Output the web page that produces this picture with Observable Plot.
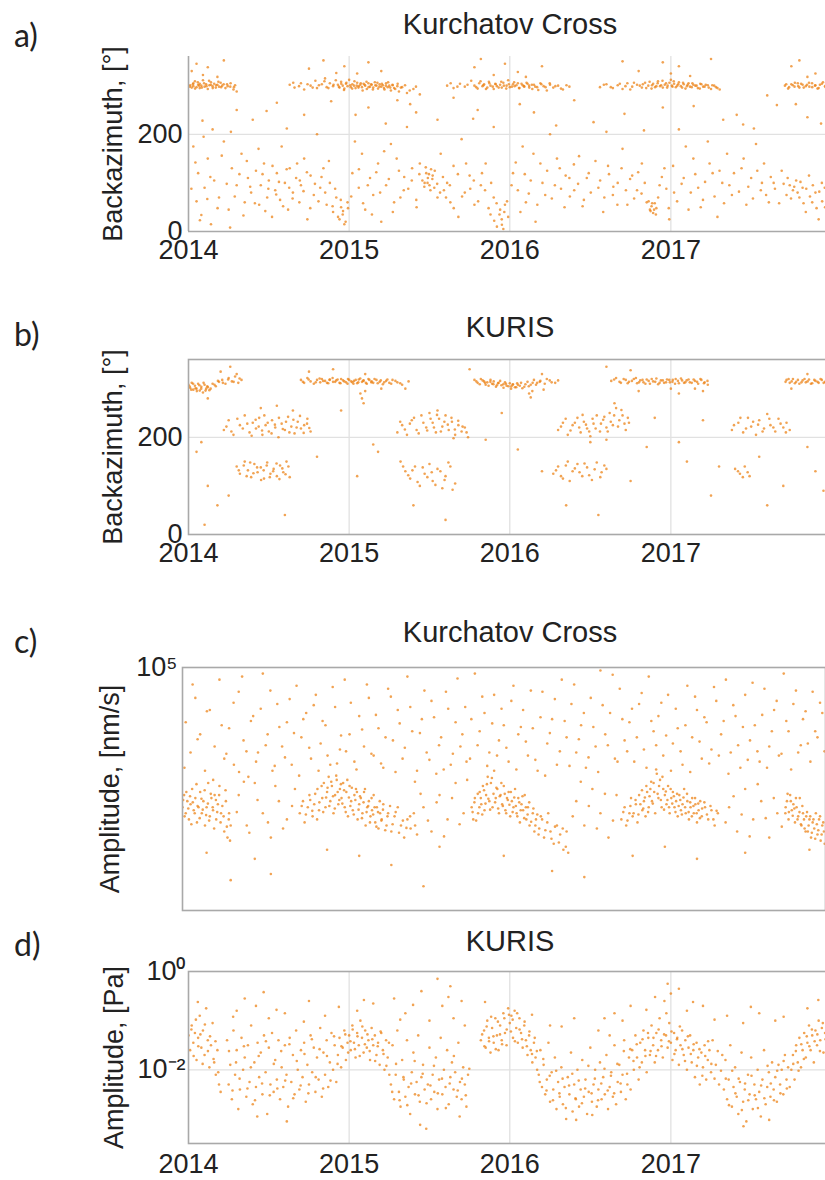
<!DOCTYPE html>
<html>
<head>
<meta charset="utf-8">
<script src="https://cdn.jsdelivr.net/npm/d3@7"></script>
<script src="https://cdn.jsdelivr.net/npm/@observablehq/plot@0.6"></script>
<style>
  html, body { margin:0; padding:0; background:#fff; }
  body { width:825px; height:1180px; overflow:hidden; position:relative; }
  .panel { position:absolute; left:0; width:900px; }
  .ttl { position:absolute; left:310px; width:400px; text-align:center; font-family:"Liberation Sans", Arial, sans-serif; font-size:29px; line-height:29px; color:#222; white-space:nowrap; }
  .plab { position:absolute; left:14px; font-family:Lato, "Open Sans", sans-serif; font-size:32px; line-height:32px; color:#222; }
</style>
</head>
<body>
<div class="plab" style="top:19px">a)</div>
<div class="ttl" style="top:10px">Kurchatov Cross</div>
<div class="panel" id="pa" style="top:36px"></div>
<div class="plab" style="top:318px">b)</div>
<div class="ttl" style="top:313px">KURIS</div>
<div class="panel" id="pb" style="top:339px"></div>
<div class="plab" style="top:625px">c)</div>
<div class="ttl" style="top:618px">Kurchatov Cross</div>
<div class="panel" id="pc" style="top:647px"></div>
<div class="plab" style="top:928px">d)</div>
<div class="ttl" style="top:927px">KURIS</div>
<div class="panel" id="pd" style="top:951px"></div>
<script>
// ---------- tick labels / categories ----------
const yearTicks = [2014, 2015, 2016, 2017];
const azTicks = [0, 200];
const ampCTicks = [1e5];
const ampCTickLabels = ["10\u2075"];
const ampDTicks = [1, 0.01];
const ampDTickLabels = ["10\u2070", "10\u207B\u00B2"];

// ---------- a) Kurchatov Cross backazimuth: [decimal year, degrees] ----------
const aBand = [
2014.01,301,2014.02,296,2014.03,305,2014.03,299,2014.04,309,2014.05,297,2014.06,302,2014.07,295,2014.07,304,2014.08,300,2014.09,311,2014.10,298,2014.11,303,2014.12,293,2014.13,301,2014.14,307,2014.15,299,2014.16,304,2014.17,296,2014.18,302,2014.19,298,2014.20,306,2014.21,300,2014.23,295,2014.24,303,2014.26,298,2014.28,292,2014.29,301,2014.30,288,
2014.02,330,2014.05,345,2014.09,322,2014.12,338,2014.18,318,2014.22,352,
2014.63,302,2014.66,296,2014.70,305,2014.72,292,2014.76,300,2014.79,310,2014.80,295,2014.83,303,2014.85,315,2014.86,297,2014.88,305,2014.90,299,2014.92,326,2014.93,302,2014.94,296,2014.95,308,2014.96,300,2014.97,294,2014.98,304,2014.99,299,2015.00,312,2015.01,297,2015.02,303,2015.03,300,2015.04,295,2015.05,306,2015.06,299,2015.07,302,2015.08,297,2015.09,304,2015.10,300,2015.11,293,2015.12,305,2015.13,298,2015.14,302,2015.15,296,2015.16,307,2015.17,300,2015.18,294,2015.19,303,2015.20,298,2015.21,301,2015.22,292,2015.23,305,2015.24,297,2015.25,300,2015.26,290,2015.27,302,2015.28,295,2015.30,299,2015.31,288,2015.33,297,2015.36,285,2015.40,293,2015.44,282,
2014.75,335,2014.84,352,2014.97,340,2015.05,325,2015.12,348,2015.20,330,2015.30,270,2015.38,262,
2015.61,300,2015.65,295,2015.69,304,2015.72,298,2015.76,310,2015.78,300,2015.80,294,2015.81,305,2015.83,299,2015.84,303,2015.86,296,2015.87,308,2015.88,300,2015.90,293,2015.91,304,2015.92,299,2015.94,302,2015.95,296,2015.96,306,2015.98,300,2015.99,311,2016.00,297,2016.02,303,2016.03,299,2016.05,305,2016.06,295,2016.08,301,2016.09,298,2016.11,304,2016.12,300,2016.14,293,2016.15,302,2016.17,297,2016.19,305,2016.21,299,2016.23,290,2016.25,302,2016.27,296,2016.30,300,2016.33,292,2016.37,298,
2015.78,338,2015.82,355,2015.90,322,2015.97,345,2016.05,328,2016.10,318,2016.20,340,
2016.56,297,2016.60,303,2016.64,295,2016.67,301,2016.70,293,2016.73,305,2016.76,298,2016.79,302,2016.82,296,2016.84,306,2016.86,300,2016.88,294,2016.89,304,2016.91,299,2016.92,309,2016.94,301,2016.95,296,2016.97,305,2016.98,300,2017.00,312,2017.01,298,2017.02,304,2017.04,300,2017.05,307,2017.07,296,2017.08,303,2017.10,299,2017.11,305,2017.13,297,2017.14,302,2017.16,300,2017.18,294,2017.19,303,2017.21,298,2017.23,301,2017.25,293,2017.27,300,2017.29,295,
2016.80,330,2016.95,348,2017.00,325,2017.05,340,2017.12,320,2017.25,355,2016.70,350,
2017.71,300,2017.73,294,2017.75,303,2017.77,298,2017.79,305,2017.80,296,2017.82,302,2017.84,299,2017.86,306,2017.88,297,2017.90,301,2017.92,295,2017.94,304,2017.96,299,2017.98,302,
2017.75,340,2017.80,352,2017.90,325,2017.85,318
];
const aBand2 = [
2014.008,298,2014.027,303,2014.041,294,2014.058,307,2014.066,300,2014.083,296,2014.097,305,2014.112,299,2014.128,310,2014.139,302,2014.151,295,2014.172,301,2014.186,308,2014.203,297,2014.219,303,2014.244,299,2014.262,305,2014.283,297,
2014.652,306,2014.688,299,2014.741,303,2014.773,296,2014.812,301,2014.846,309,2014.871,295,2014.903,302,2014.917,311,2014.936,298,2014.951,304,2014.968,291,2014.983,306,2015.007,301,2015.019,294,2015.033,309,2015.047,300,2015.058,296,2015.072,305,2015.084,290,2015.096,302,2015.108,308,2015.121,297,2015.137,303,2015.148,292,2015.163,301,2015.176,306,2015.188,298,2015.204,304,2015.217,295,2015.229,300,2015.243,307,2015.256,296,2015.271,301,2015.287,293,2015.302,304,2015.322,296,2015.348,301,2015.377,290,2015.416,298,
2015.632,305,2015.674,298,2015.737,302,2015.791,297,2015.818,309,2015.836,301,2015.852,293,2015.873,305,2015.894,298,2015.912,303,2015.931,296,2015.947,308,2015.963,300,2015.978,294,2015.994,303,2016.013,298,2016.027,307,2016.041,301,2016.057,295,2016.073,304,2016.088,299,2016.104,306,2016.121,296,2016.137,302,2016.158,298,2016.177,291,2016.196,303,2016.222,297,2016.248,305,2016.283,299,2016.318,294,2016.352,301,
2016.584,302,2016.627,297,2016.683,304,2016.718,299,2016.748,292,2016.771,306,2016.807,300,2016.826,303,2016.847,295,2016.868,308,2016.883,301,2016.902,297,2016.918,305,2016.933,299,2016.948,310,2016.962,302,2016.977,296,2016.991,306,2017.006,300,2017.018,309,2017.031,297,2017.046,303,2017.062,299,2017.076,306,2017.091,294,2017.105,302,2017.119,298,2017.134,305,2017.152,300,2017.168,295,2017.183,304,2017.201,298,2017.217,302,2017.236,296,2017.258,301,2017.281,297,2017.304,292,
2017.718,303,2017.736,297,2017.759,301,2017.772,306,2017.793,299,2017.811,304,2017.827,296,2017.848,302,2017.862,298,2017.879,305,2017.897,300,2017.913,294,2017.928,302,2017.947,307,2017.963,297,2017.984,301
];
const aScatter = [
2014.03,175,2014.05,62,2014.06,120,2014.08,34,2014.10,90,2014.12,150,2014.14,15,2014.16,105,2014.19,70,2014.22,185,2014.25,45,2014.27,130,2014.30,95,2014.33,160,2014.35,60,2014.37,110,2014.39,80,2014.40,230,2014.42,125,2014.44,55,2014.45,95,2014.47,140,2014.49,70,2014.50,105,2014.52,30,2014.54,85,2014.55,120,2014.57,65,2014.58,175,2014.60,100,2014.62,45,2014.63,130,2014.65,80,2014.67,110,2014.69,60,2014.70,95,2014.72,150,2014.74,25,2014.76,115,2014.78,75,2014.80,200,2014.82,90,2014.84,130,2014.86,55,2014.88,100,2014.90,40,2014.92,70,2014.94,25,2014.95,50,2014.96,35,2014.97,15,2014.99,60,
2015.02,120,2015.04,240,2015.06,90,2015.08,160,2015.10,45,2015.13,110,2015.15,75,2015.18,140,2015.20,20,2015.23,95,2015.26,180,2015.28,60,2015.31,125,2015.34,85,2015.36,215,2015.39,105,2015.42,50,2015.44,140,2015.47,100,2015.48,120,2015.49,110,2015.50,95,2015.51,128,2015.52,115,2015.53,90,2015.55,70,2015.57,160,2015.59,85,2015.61,100,2015.63,60,2015.65,135,2015.68,30,2015.70,190,2015.72,80,2015.75,115,2015.78,55,2015.80,250,2015.82,95,2015.85,140,2015.88,35,2015.90,70,2015.92,10,2015.94,45,2015.95,25,2015.96,5,2015.97,55,2015.99,30,
2016.02,120,2016.05,85,2016.08,175,2016.10,60,2016.13,105,2016.16,20,2016.19,140,2016.22,75,2016.25,200,2016.28,95,2016.31,130,2016.34,50,2016.37,110,2016.40,85,2016.43,155,2016.46,65,2016.49,120,2016.52,225,2016.55,90,2016.58,40,2016.61,135,2016.64,75,2016.67,100,2016.70,170,2016.73,55,2016.76,115,2016.79,85,2016.82,140,2016.85,60,2016.87,45,2016.88,52,2016.89,38,2016.90,58,2016.91,48,2016.93,95,2016.96,130,2016.99,25,
2017.02,80,2017.05,210,2017.08,110,2017.11,45,2017.14,150,2017.17,90,2017.20,65,2017.23,185,2017.26,120,2017.29,30,2017.32,100,2017.35,160,2017.38,75,2017.41,240,2017.44,130,2017.47,55,2017.50,110,2017.53,180,2017.56,85,2017.58,140,2017.61,60,2017.64,100,2017.66,260,2017.69,125,2017.72,75,2017.74,95,2017.76,85,2017.78,105,2017.80,70,2017.82,90,2017.84,40,2017.86,115,2017.88,60,2017.90,80,2017.92,25,2017.94,100,2017.96,50,2017.98,75,
2014.15,210,2014.55,265,2014.72,240,2015.12,255,2015.55,230,2015.65,275,2016.15,245,2016.40,270,2016.60,205,2016.95,255,2017.45,220,2017.60,280,2017.85,235,2014.30,250,2015.90,215
];
const aScatter2 = [
2014.018,88,2014.043,142,2014.071,23,2014.094,195,2014.117,67,2014.136,112,2014.181,48,2014.207,156,2014.238,98,2014.259,8,2014.288,72,2014.317,118,2014.342,33,2014.363,145,2014.384,92,2014.413,58,2014.436,170,2014.461,118,2014.478,42,2014.497,88,2014.523,135,2014.546,76,2014.563,102,2014.589,52,2014.611,128,2014.627,90,2014.648,68,2014.676,140,2014.693,105,2014.716,83,2014.737,122,2014.758,48,2014.787,98,2014.809,62,2014.828,112,2014.851,80,2014.874,145,2014.897,52,2014.913,88,2014.931,30,2014.948,65,2014.962,42,2014.978,20,2014.993,48,
2015.013,72,2015.036,185,2015.061,128,2015.087,58,2015.116,95,2015.142,35,2015.169,122,2015.193,80,2015.218,165,2015.247,108,2015.272,40,2015.296,150,2015.319,70,2015.343,112,2015.368,88,2015.392,130,2015.418,65,2015.437,118,2015.456,105,2015.468,92,2015.477,132,2015.488,100,2015.497,118,2015.506,85,2015.518,108,2015.533,125,2015.548,98,2015.566,80,2015.584,112,2015.603,70,2015.627,95,2015.651,48,2015.677,118,2015.703,72,2015.728,140,2015.754,88,2015.776,105,2015.803,62,2015.827,120,2015.846,85,2015.868,48,2015.884,100,2015.903,22,2015.918,58,2015.936,35,2015.951,14,2015.966,40,2015.983,62,
2016.011,95,2016.037,142,2016.066,40,2016.093,118,2016.118,78,2016.147,160,2016.171,55,2016.203,100,2016.232,125,2016.261,68,2016.293,150,2016.318,88,2016.347,115,2016.373,72,2016.398,138,2016.424,98,2016.452,52,2016.478,110,2016.503,80,2016.532,145,2016.561,105,2016.587,70,2016.616,118,2016.643,92,2016.668,55,2016.694,130,2016.721,85,2016.747,108,2016.772,68,2016.797,122,2016.818,78,2016.838,100,2016.862,62,2016.874,42,2016.884,58,2016.896,45,2016.907,35,2016.921,70,2016.944,112,2016.972,88,2016.987,48,
2017.014,135,2017.039,62,2017.067,98,2017.093,175,2017.124,80,2017.152,118,2017.186,50,2017.213,102,2017.241,140,2017.272,72,2017.303,125,2017.331,58,2017.364,95,2017.393,120,2017.424,82,2017.453,150,2017.482,92,2017.511,68,2017.538,125,2017.567,100,2017.593,75,2017.622,112,2017.648,88,2017.674,58,2017.702,98,2017.727,110,2017.748,68,2017.768,92,2017.789,80,2017.807,102,2017.826,58,2017.843,88,2017.866,72,2017.884,95,2017.907,48,2017.924,82,2017.942,62,2017.958,90,2017.976,35,2017.991,68,
2014.087,228,2014.264,205,2014.486,248,2014.612,212,2014.888,268,2015.228,222,2015.417,245,2015.772,232,2016.062,262,2016.288,218,2016.712,242,2016.833,208,2017.142,258,2017.326,230,2017.517,212,2017.778,262,2017.935,222
];

// ---------- b) KURIS backazimuth: [decimal year, degrees] ----------
const bBand = [
2014.00,308,2014.01,302,2014.02,312,2014.03,298,2014.04,306,2014.05,300,2014.06,310,2014.07,296,2014.08,304,2014.09,292,2014.10,308,2014.11,300,2014.12,303,2014.13,297,2014.15,310,2014.17,305,2014.19,314,2014.21,318,2014.23,310,2014.25,322,2014.27,315,2014.29,325,2014.31,312,2014.33,318,
2014.20,335,2014.26,345,2014.30,330,2014.12,280,
2014.70,318,2014.72,312,2014.74,322,2014.76,315,2014.78,310,2014.80,318,2014.82,313,2014.83,320,2014.85,316,2014.87,311,2014.88,319,2014.90,314,2014.92,317,2014.94,312,2014.95,320,2014.97,315,2014.99,310,2015.00,318,2015.02,313,2015.03,316,2015.05,311,2015.06,319,2015.08,314,2015.09,317,2015.11,310,2015.12,320,2015.14,315,2015.15,312,2015.17,318,2015.19,314,2015.21,309,2015.23,316,2015.25,312,2015.27,318,2015.30,313,2015.33,308,2015.37,315,
2014.75,335,2014.90,340,2015.10,330,2015.20,300,2015.07,290,2015.08,280,2015.09,270,2015.10,295,2015.35,300,
2015.78,318,2015.80,312,2015.82,320,2015.84,315,2015.85,308,2015.86,313,2015.88,318,2015.89,310,2015.90,315,2015.92,307,2015.93,312,2015.94,316,2015.96,309,2015.97,313,2015.98,306,2016.00,311,2016.01,305,2016.02,309,2016.04,303,2016.05,308,2016.07,312,2016.09,304,2016.11,314,2016.13,308,2016.15,318,2016.17,312,2016.19,316,2016.21,298,2016.23,320,2016.26,313,2016.30,317,
2015.75,340,2016.12,290,2016.13,282,2016.14,295,2016.20,330,
2016.63,316,2016.66,322,2016.69,312,2016.72,318,2016.74,314,2016.77,320,2016.79,311,2016.81,317,2016.83,313,2016.85,319,2016.87,310,2016.89,315,2016.91,321,2016.93,312,2016.95,317,2016.97,313,2016.99,318,2017.01,314,2017.03,320,2017.05,311,2017.07,317,2017.09,313,2017.11,319,2017.13,312,2017.15,316,2017.17,310,2017.19,318,2017.21,313,2017.23,308,
2016.60,345,2016.75,338,2017.00,300,2017.05,290,2017.15,300,2017.20,295,2016.80,295,
2017.72,318,2017.74,312,2017.76,320,2017.78,314,2017.80,310,2017.82,317,2017.84,313,2017.86,319,2017.88,311,2017.90,316,2017.92,312,2017.94,318,2017.96,314,
2017.85,330,2017.75,300
];
const bBand2 = [
2014.006,305,2014.017,298,2014.029,310,2014.044,301,2014.052,295,2014.068,307,2014.079,300,2014.094,312,2014.106,296,2014.117,305,2014.138,300,2014.162,308,2014.183,316,2014.214,312,2014.247,319,2014.281,314,2014.318,321,
2014.712,314,2014.748,319,2014.792,313,2014.816,321,2014.838,316,2014.862,312,2014.878,318,2014.897,322,2014.913,314,2014.928,319,2014.946,311,2014.962,317,2014.981,313,2014.993,320,2015.013,315,2015.027,310,2015.041,318,2015.057,313,2015.069,321,2015.088,316,2015.104,312,2015.126,318,2015.138,313,2015.158,320,2015.178,311,2015.197,317,2015.218,313,2015.238,319,2015.262,310,2015.288,316,2015.318,311,
2015.792,315,2015.813,309,2015.831,317,2015.846,312,2015.868,306,2015.879,314,2015.898,309,2015.914,304,2015.927,311,2015.948,307,2015.961,302,2015.976,310,2015.991,305,2016.008,300,2016.018,308,2016.032,303,2016.046,311,2016.062,306,2016.078,301,2016.097,309,2016.118,305,2016.142,312,2016.163,308,2016.186,314,2016.217,310,2016.248,317,2016.282,312,
2016.648,319,2016.681,314,2016.707,320,2016.732,311,2016.758,316,2016.783,322,2016.802,313,2016.824,318,2016.842,310,2016.862,316,2016.881,320,2016.903,314,2016.921,309,2016.938,317,2016.958,312,2016.976,319,2016.994,313,2017.012,318,2017.026,310,2017.044,316,2017.063,321,2017.082,312,2017.098,317,2017.118,313,2017.142,319,2017.163,314,2017.184,320,2017.206,311,2017.228,316,
2017.714,314,2017.733,320,2017.752,315,2017.772,311,2017.791,318,2017.813,313,2017.832,320,2017.851,315,2017.872,310,2017.893,318,2017.913,314,2017.932,320,2017.951,312,2017.972,317,2017.990,313
];
const bMid = [
2014.22,215,2014.25,235,2014.28,205,2014.32,225,2014.35,245,2014.38,210,2014.40,230,2014.42,218,2014.44,240,2014.46,205,2014.48,225,2014.50,212,2014.52,235,2014.54,220,2014.56,200,2014.58,228,2014.60,215,2014.62,242,2014.64,222,2014.66,208,2014.68,232,2014.70,218,2014.72,225,2014.74,238,2014.76,212,2014.45,260,2014.55,265,2014.65,255,
2015.30,210,2015.33,225,2015.36,205,2015.39,235,2015.42,215,2015.45,245,2015.48,220,2015.50,250,2015.52,230,2015.54,210,2015.56,238,2015.58,222,2015.60,245,2015.62,215,2015.64,232,2015.66,205,2015.68,225,2015.70,212,2015.72,220,2015.74,200,2015.55,255,2015.65,198,
2016.30,215,2016.33,230,2016.36,205,2016.39,225,2016.42,240,2016.44,210,2016.46,232,2016.48,218,2016.50,202,2016.52,228,2016.54,245,2016.56,212,2016.58,236,2016.60,220,2016.62,250,2016.64,225,2016.66,260,2016.68,235,2016.70,245,2016.72,215,2016.74,230,2016.60,195,2016.50,190,2016.65,270,
2017.38,215,2017.42,230,2017.45,210,2017.48,240,2017.50,222,2017.53,205,2017.55,235,2017.58,218,2017.60,248,2017.62,225,2017.65,212,2017.67,238,2017.70,220,2017.72,230,2017.74,215
];
const bMid2 = [
2014.236,222,2014.267,212,2014.304,238,2014.338,218,2014.366,228,2014.393,203,2014.418,236,2014.437,222,2014.458,214,2014.472,245,2014.493,230,2014.517,208,2014.538,226,2014.563,240,2014.587,217,2014.607,232,2014.628,210,2014.653,236,2014.673,220,2014.694,244,2014.717,209,2014.738,228,2014.752,219,
2015.318,232,2015.347,216,2015.378,228,2015.404,240,2015.433,208,2015.462,230,2015.486,214,2015.507,238,2015.528,220,2015.547,246,2015.571,212,2015.593,232,2015.614,226,2015.637,240,2015.658,216,2015.679,234,2015.706,222,2015.731,210,
2016.318,222,2016.347,238,2016.377,214,2016.404,230,2016.431,220,2016.452,246,2016.473,226,2016.493,212,2016.514,238,2016.533,218,2016.566,228,2016.587,242,2016.608,212,2016.627,232,2016.648,245,2016.672,222,2016.693,256,2016.712,228,2016.733,240,
2017.393,225,2017.433,240,2017.468,218,2017.512,232,2017.543,226,2017.571,212,2017.613,238,2017.638,220,2017.683,228,2017.716,210
];
const bLow = [
2014.30,140,2014.32,125,2014.35,150,2014.37,132,2014.39,118,2014.41,145,2014.43,128,2014.45,138,2014.47,115,2014.49,148,2014.51,125,2014.53,135,2014.55,120,2014.57,142,2014.59,128,2014.61,150,2014.63,118,
2015.32,150,2015.35,130,2015.38,115,2015.41,140,2015.44,100,2015.47,125,2015.50,145,2015.52,110,2015.55,135,2015.58,95,2015.60,120,2015.63,140,2015.66,105,
2016.27,125,2016.30,140,2016.33,115,2016.36,150,2016.39,130,2016.42,145,2016.45,120,2016.48,138,2016.51,112,2016.54,148,2016.57,128,2016.60,135,
2017.40,135,2017.43,125,2017.46,140,2017.49,120,
2014.05,170,2014.08,190,2014.12,100,2014.18,60,2014.10,20,2014.25,80,2014.60,40,2014.80,160,2015.15,185,2015.18,170,2015.05,120,2015.40,60,2015.60,30,2015.85,195,2016.05,175,2016.20,130,2016.35,60,2016.55,40,2016.75,110,2016.85,180,2017.05,190,2017.10,150,2017.25,80,2017.30,140,2017.55,160,2017.60,60,2017.70,100,2017.85,180,2017.90,130,2017.95,90,2015.95,250,2016.90,240,2014.95,255,2017.20,235
];
const bLow2 = [
2014.313,132,2014.344,142,2014.362,120,2014.384,148,2014.404,126,2014.427,138,2014.452,112,2014.468,132,2014.487,142,2014.506,118,2014.527,130,2014.548,146,2014.566,114,2014.584,136,2014.604,124,2014.622,140,
2015.336,140,2015.368,122,2015.394,132,2015.426,108,2015.458,138,2015.487,118,2015.514,128,2015.537,102,2015.568,130,2015.594,112,2015.618,148,2015.644,92,
2016.287,132,2016.318,120,2016.348,142,2016.372,110,2016.404,136,2016.433,128,2016.464,146,2016.493,122,2016.527,134,2016.562,118,2016.587,142,
2017.418,130,2017.448,118,2017.478,128
];

// ---------- c) Kurchatov Cross amplitude: [decimal year, log10 nm/s] ----------
const cClusters = [
2014.00,2.7,2014.01,2.9,2014.02,2.6,2014.03,2.8,2014.04,2.5,2014.05,2.75,2014.06,3.0,2014.07,2.65,2014.08,2.85,2014.09,2.45,2014.10,2.7,2014.11,2.95,2014.12,2.6,2014.13,2.8,2014.14,2.4,2014.15,2.7,2014.16,3.1,2014.17,2.55,2014.18,2.85,2014.19,2.65,2014.20,2.9,2014.21,2.5,2014.22,2.75,2014.23,3.05,2014.24,2.6,2014.26,2.3,2014.27,2.8,2014.28,2.2,2014.29,2.6,2014.30,2.4,
2014.73,2.6,2014.75,2.8,2014.76,2.45,2014.78,2.7,2014.79,2.9,2014.81,2.55,2014.82,2.75,2014.84,3.0,2014.85,2.65,2014.87,2.85,2014.88,3.1,2014.89,2.7,2014.90,2.95,2014.91,3.2,2014.92,2.8,2014.93,3.05,2014.94,2.6,2014.95,2.9,2014.96,3.15,2014.97,2.75,2014.98,3.0,2014.99,2.85,2015.00,3.1,2015.01,2.7,2015.02,2.95,2015.03,2.55,2015.04,3.05,2015.05,2.8,2015.06,2.65,2015.07,2.9,2015.08,3.0,2015.09,2.5,2015.10,2.75,2015.11,2.85,2015.12,2.6,2015.13,2.95,2015.14,2.4,2015.15,2.7,2015.16,2.8,2015.17,2.55,2015.18,2.65,2015.19,2.9,2015.20,2.45,2015.21,2.7,2015.22,2.35,2015.23,2.6,2015.24,2.5,2015.25,2.75,2015.27,2.4,2015.28,2.6,2015.30,2.3,2015.32,2.55,2015.34,2.7,2015.36,2.4,2015.38,2.2,2015.40,2.5,2015.42,2.35,2015.44,2.6,2015.46,2.25,
2015.80,2.7,2015.81,2.5,2015.82,2.85,2015.84,2.6,2015.85,2.95,2015.86,2.75,2015.87,3.05,2015.88,2.65,2015.89,2.9,2015.90,3.2,2015.91,2.8,2015.92,3.1,2015.93,2.7,2015.94,3.3,2015.95,2.85,2015.96,3.0,2015.97,2.6,2015.98,2.9,2015.99,2.75,2016.00,3.05,2016.01,2.65,2016.02,2.85,2016.03,2.95,2016.04,2.55,2016.05,2.8,2016.06,2.7,2016.07,3.0,2016.08,2.6,2016.09,2.85,2016.10,2.45,2016.11,2.75,2016.12,2.65,2016.13,2.9,2016.14,2.5,2016.15,2.7,2016.16,2.4,2016.18,2.6,2016.19,2.3,2016.20,2.5,2016.22,2.35,2016.23,2.55,2016.25,2.2,2016.27,2.45,2016.29,2.3,2016.31,2.1,2016.33,2.4,2016.35,2.25,2016.37,2.0,2016.39,2.3,
2016.73,2.5,2016.75,2.7,2016.76,2.4,2016.78,2.6,2016.79,2.85,2016.80,2.55,2016.82,2.75,2016.83,2.45,2016.84,2.9,2016.86,2.65,2016.87,2.8,2016.88,2.55,2016.89,2.95,2016.90,2.7,2016.91,3.0,2016.92,2.8,2016.93,3.1,2016.94,2.6,2016.95,3.25,2016.96,2.85,2016.97,3.15,2016.98,2.7,2016.99,3.0,2017.00,2.9,2017.01,2.75,2017.02,3.05,2017.03,2.6,2017.04,2.85,2017.05,2.95,2017.06,2.7,2017.07,2.8,2017.08,2.55,2017.09,2.9,2017.10,2.65,2017.11,2.75,2017.12,3.0,2017.13,2.6,2017.14,2.8,2017.15,2.5,2017.16,2.7,2017.17,2.85,2017.18,2.6,2017.19,2.75,2017.20,2.45,2017.21,2.65,2017.22,2.8,2017.23,2.55,2017.25,2.7,2017.27,2.5,2017.29,2.65,2017.31,2.4,2017.33,2.6,
2017.75,2.6,2017.76,2.8,2017.77,2.5,2017.78,2.9,2017.79,2.65,2017.80,2.75,2017.81,2.45,2017.82,2.7,2017.83,2.55,2017.84,2.85,2017.85,2.4,2017.86,2.6,2017.87,2.35,2017.88,2.55,2017.89,2.3,2017.90,2.5,2017.91,2.2,2017.92,2.45,2017.93,2.35,2017.94,2.6,2017.95,2.25,2017.96,2.5,2017.97,2.15,2017.98,2.4,2017.99,2.3
];
const cClusters2 = [
2014.004,2.82,2014.013,2.55,2014.024,2.95,2014.036,2.68,2014.047,2.88,2014.055,2.42,2014.064,2.78,2014.076,2.6,2014.087,3.08,2014.094,2.72,2014.107,2.52,2014.118,2.84,2014.126,2.66,2014.138,2.98,2014.147,2.57,2014.158,2.76,2014.166,2.48,2014.176,2.92,2014.188,2.7,2014.197,2.35,2014.208,2.82,2014.216,2.62,2014.228,2.9,2014.237,2.45,2014.248,2.72,2014.256,2.55,2014.268,2.98,2014.276,2.38,2014.288,2.5,2014.296,2.15,
2014.742,2.72,2014.768,2.58,2014.795,2.82,2014.808,2.64,2014.826,2.92,2014.838,2.5,2014.852,2.78,2014.866,3.05,2014.876,2.62,2014.894,2.86,2014.903,3.02,2014.914,2.72,2014.926,3.12,2014.937,2.88,2014.948,2.68,2014.957,3.22,2014.966,2.95,2014.976,2.82,2014.986,3.08,2014.995,2.76,2015.006,2.98,2015.016,2.62,2015.026,3.15,2015.036,2.86,2015.045,2.72,2015.054,3.02,2015.066,2.58,2015.076,2.82,2015.086,2.95,2015.096,2.66,2015.105,2.88,2015.117,2.52,2015.127,2.78,2015.136,3.0,2015.146,2.62,2015.156,2.72,2015.167,2.45,2015.177,2.85,2015.187,2.58,2015.196,2.7,2015.207,2.38,2015.217,2.62,2015.228,2.8,2015.238,2.48,2015.248,2.66,2015.262,2.32,2015.276,2.55,2015.292,2.72,2015.308,2.42,2015.327,2.62,2015.348,2.28,2015.372,2.48,2015.394,2.36,2015.417,2.55,2015.448,2.4,
2015.806,2.62,2015.817,2.78,2015.828,2.48,2015.838,2.92,2015.848,2.7,2015.857,2.85,2015.866,2.58,2015.877,2.98,2015.886,2.76,2015.895,3.08,2015.904,2.84,2015.915,2.66,2015.926,3.18,2015.936,2.92,2015.946,2.78,2015.954,3.02,2015.965,2.68,2015.975,2.88,2015.985,3.1,2015.994,2.72,2016.006,2.92,2016.015,2.6,2016.025,2.82,2016.035,2.74,2016.044,2.95,2016.055,2.62,2016.065,2.86,2016.075,2.72,2016.084,2.55,2016.096,2.78,2016.105,2.65,2016.116,2.88,2016.127,2.52,2016.137,2.7,2016.148,2.58,2016.158,2.78,2016.170,2.46,2016.184,2.68,2016.196,2.4,2016.208,2.58,2016.216,2.25,2016.238,2.5,2016.258,2.32,2016.276,2.6,2016.296,2.18,2016.318,2.38,2016.342,2.12,2016.366,2.35,2016.385,2.05,
2016.742,2.62,2016.768,2.48,2016.786,2.72,2016.806,2.6,2016.818,2.82,2016.836,2.58,2016.848,2.75,2016.858,2.98,2016.866,2.68,2016.876,2.86,2016.885,3.05,2016.896,2.62,2016.905,2.88,2016.915,3.12,2016.925,2.76,2016.934,2.95,2016.946,3.32,2016.955,2.92,2016.964,3.05,2016.975,2.82,2016.985,3.2,2016.995,2.66,2017.006,2.96,2017.016,2.82,2017.026,2.7,2017.036,3.0,2017.046,2.76,2017.056,2.88,2017.066,2.62,2017.076,2.92,2017.086,2.72,2017.096,2.82,2017.106,2.58,2017.116,2.86,2017.126,2.7,2017.138,2.92,2017.148,2.62,2017.158,2.78,2017.168,2.55,2017.178,2.72,2017.188,2.85,2017.198,2.6,2017.208,2.76,2017.218,2.52,2017.232,2.68,2017.246,2.78,2017.262,2.58,2017.284,2.72,2017.302,2.5,2017.322,2.64,
2017.752,2.7,2017.764,2.92,2017.772,2.62,2017.784,2.8,2017.796,2.56,2017.806,2.68,2017.816,2.85,2017.826,2.5,2017.838,2.62,2017.847,2.42,2017.856,2.72,2017.866,2.5,2017.876,2.3,2017.885,2.62,2017.895,2.4,2017.905,2.55,2017.915,2.28,2017.925,2.5,2017.936,2.18,2017.946,2.42,2017.955,2.32,2017.966,2.55,2017.976,2.25,2017.986,2.45,2017.995,2.1
];
const cScatter = [
2014.02,4.1,2014.05,3.6,2014.08,4.5,2014.11,3.9,2014.14,3.3,2014.17,4.3,2014.20,3.7,2014.23,4.8,2014.26,3.5,2014.29,4.0,2014.32,3.4,2014.35,4.6,2014.38,3.8,2014.41,3.2,2014.44,4.2,2014.47,3.6,2014.50,4.9,2014.53,3.9,2014.56,3.3,2014.59,4.4,2014.62,3.7,2014.65,4.1,2014.68,3.4,2014.71,4.7,2014.74,3.85,2014.77,4.25,2014.80,3.5,2014.83,4.55,2014.86,3.75,2014.89,4.05,2014.92,3.4,2014.95,4.35,2014.98,3.65,
2015.01,4.8,2015.04,3.9,2015.07,3.45,2015.10,4.2,2015.13,3.7,2015.16,4.5,2015.19,3.55,2015.22,4.0,2015.25,3.35,2015.28,4.65,2015.31,3.8,2015.34,4.3,2015.37,3.5,2015.40,4.85,2015.43,3.95,2015.46,3.3,2015.49,4.15,2015.52,3.6,2015.55,4.45,2015.58,3.25,2015.61,3.85,2015.64,4.6,2015.67,3.4,2015.70,4.1,2015.73,3.7,2015.76,4.35,2015.79,3.5,2015.82,4.9,2015.85,3.95,2015.88,4.25,2015.91,3.6,2015.94,4.55,2015.97,3.8,
2016.00,4.05,2016.03,3.45,2016.06,4.7,2016.09,3.9,2016.12,4.3,2016.15,3.55,2016.18,4.0,2016.21,3.3,2016.24,4.6,2016.27,3.75,2016.30,4.15,2016.33,3.4,2016.36,4.8,2016.39,3.85,2016.42,4.4,2016.45,3.6,2016.48,4.05,2016.51,3.35,2016.54,4.5,2016.57,3.7,2016.60,4.95,2016.63,3.9,2016.66,4.25,2016.69,3.5,2016.72,4.65,2016.75,3.8,2016.78,4.1,2016.81,3.45,2016.84,4.4,2016.87,3.65,2016.90,4.85,2016.93,3.95,2016.96,4.2,2016.99,3.55,
2017.02,4.55,2017.05,3.75,2017.08,4.0,2017.11,3.4,2017.14,4.7,2017.17,3.85,2017.20,4.3,2017.23,3.5,2017.26,4.1,2017.29,3.65,2017.32,4.45,2017.35,3.9,2017.38,4.8,2017.41,3.6,2017.44,4.2,2017.47,3.35,2017.50,4.55,2017.53,3.8,2017.56,4.05,2017.59,3.45,2017.62,4.65,2017.65,3.7,2017.68,4.3,2017.71,3.55,2017.74,4.9,2017.77,3.95,2017.80,4.4,2017.83,3.6,2017.86,4.15,2017.89,3.75,2017.92,4.6,2017.95,3.85,2017.98,4.25,
2014.35,2.9,2014.40,2.4,2014.45,3.1,2014.50,2.6,2014.55,2.2,2014.60,2.8,2014.65,2.5,2014.70,3.0,2015.50,2.7,2015.55,2.3,2015.60,2.9,2015.65,2.5,2015.70,3.1,2015.75,2.6,2016.45,2.8,2016.50,2.4,2016.55,3.0,2016.60,2.6,2016.65,2.2,2016.70,2.9,2017.40,2.7,2017.45,2.3,2017.50,3.0,2017.55,2.5,2017.60,2.8,2017.65,2.2,2017.70,2.6,
2014.15,1.95,2014.45,1.85,2014.90,2.0,2015.10,1.9,2015.30,1.75,2015.60,2.05,2016.00,1.9,2016.40,1.95,2016.30,1.65,2016.80,1.9,2017.00,2.05,2017.20,1.85,2017.50,1.95,2017.90,2.0,2014.55,1.6,2014.30,1.5,2015.50,1.4,2016.50,1.55
];
const cScatter2 = [
2014.012,3.35,2014.063,4.72,2014.094,3.82,2014.152,4.28,2014.191,3.15,2014.244,4.05,2014.273,3.58,2014.318,4.42,2014.352,3.28,2014.371,4.85,2014.398,3.62,2014.426,4.12,2014.458,3.45,2014.487,4.32,2014.518,3.72,2014.547,4.62,2014.574,3.38,2014.603,4.02,2014.638,3.52,2014.667,4.48,2014.694,3.92,2014.726,3.22,2014.752,4.15,2014.789,3.68,2014.817,4.38,2014.847,3.3,2014.872,4.12,2014.903,3.55,2014.935,4.68,2014.962,3.42,2014.987,3.88,
2015.018,3.62,2015.048,4.42,2015.083,3.32,2015.118,3.98,2015.148,4.72,2015.176,3.58,2015.204,4.22,2015.236,3.42,2015.264,3.85,2015.297,4.52,2015.326,3.28,2015.352,4.08,2015.384,3.68,2015.418,4.35,2015.447,3.12,2015.478,3.92,2015.506,4.62,2015.537,3.48,2015.566,4.18,2015.597,3.72,2015.626,3.32,2015.654,4.32,2015.683,3.58,2015.712,4.82,2015.742,3.9,2015.768,3.45,2015.798,4.15,2015.837,3.72,2015.866,4.52,2015.897,3.38,2015.928,4.08,2015.958,3.55,2015.986,4.32,
2016.016,3.68,2016.047,4.45,2016.078,3.32,2016.106,4.02,2016.137,3.78,2016.168,4.62,2016.196,3.48,2016.228,4.18,2016.257,3.22,2016.286,3.92,2016.317,4.48,2016.348,3.62,2016.378,4.12,2016.408,3.38,2016.437,4.72,2016.466,3.82,2016.497,4.25,2016.526,3.52,2016.556,4.02,2016.586,3.28,2016.614,4.38,2016.646,3.72,2016.676,4.88,2016.706,3.45,2016.736,4.15,2016.766,3.62,2016.796,4.32,2016.826,3.85,2016.856,4.58,2016.886,3.35,2016.916,4.12,2016.946,3.72,2016.978,4.42,
2017.008,3.88,2017.038,3.3,2017.068,4.32,2017.098,3.62,2017.128,4.05,2017.158,3.28,2017.188,4.52,2017.216,3.78,2017.246,4.18,2017.276,3.42,2017.306,4.68,2017.336,3.55,2017.366,4.12,2017.396,3.25,2017.426,4.38,2017.456,3.72,2017.486,4.02,2017.516,3.48,2017.546,4.75,2017.576,3.62,2017.606,4.22,2017.636,3.35,2017.666,3.95,2017.696,4.45,2017.726,3.58,2017.756,4.12,2017.786,3.32,2017.816,4.62,2017.846,3.72,2017.876,4.28,2017.906,3.45,2017.936,3.95,2017.966,4.42,2017.994,3.62,
2014.338,2.62,2014.382,3.12,2014.416,2.28,2014.467,2.82,2014.532,2.45,2014.578,3.05,2014.626,2.35,2014.682,2.72,2015.482,2.92,2015.528,2.48,2015.582,2.78,2015.628,2.22,2015.678,2.85,2015.725,2.42,2015.772,3.15,2016.428,2.55,2016.478,3.12,2016.528,2.72,2016.578,2.35,2016.628,2.92,2016.678,2.48,2017.378,2.45,2017.428,2.88,2017.478,2.58,2017.528,2.22,2017.578,3.08,2017.628,2.52,2017.678,2.85,2017.728,2.38
];

// ---------- d) KURIS amplitude: [decimal year, log10 Pa] ----------
const dClusters = [
2014.00,-1.3,2014.01,-1.6,2014.02,-1.1,2014.03,-1.45,2014.04,-1.25,2014.05,-1.8,2014.06,-1.35,2014.07,-0.9,2014.08,-1.55,2014.09,-1.2,2014.10,-1.7,2014.11,-0.75,2014.12,-1.4,2014.13,-1.95,2014.14,-1.5,2014.15,-1.05,2014.16,-1.85,2014.17,-2.1,2014.18,-1.6,2014.19,-2.3,2014.20,-2.45,
2014.24,-1.4,2014.25,-2.3,2014.26,-1.9,2014.27,-2.6,2014.28,-1.2,2014.29,-2.1,2014.30,-1.6,2014.31,-2.8,2014.32,-2.4,2014.33,-1.35,2014.34,-2.0,2014.35,-1.75,2014.36,-2.55,2014.37,-1.5,2014.38,-2.25,2014.39,-1.1,2014.40,-2.7,2014.41,-1.85,2014.42,-2.35,2014.43,-1.45,2014.44,-2.15,2014.45,-1.65,2014.46,-2.5,2014.47,-1.3,2014.48,-2.05,2014.49,-2.9,2014.50,-1.55,2014.51,-2.3,2014.52,-1.25,2014.53,-2.45,2014.54,-1.8,2014.55,-2.2,2014.56,-1.4,2014.57,-2.6,2014.58,-1.95,2014.59,-2.35,2014.60,-1.5,2014.61,-2.1,2014.62,-2.75,2014.63,-1.35,2014.64,-2.25,2014.65,-1.7,2014.66,-2.5,2014.67,-1.2,2014.68,-2.0,2014.69,-2.4,2014.70,-1.6,2014.71,-2.15,2014.72,-1.45,2014.73,-2.65,2014.74,-1.9,2014.75,-2.3,2014.76,-1.3,2014.77,-2.05,2014.78,-1.55,2014.79,-2.45,2014.80,-1.75,2014.81,-2.2,2014.82,-1.15,2014.83,-2.55,2014.84,-1.65,2014.85,-2.1,2014.86,-1.4,2014.87,-2.35,2014.88,-1.85,2014.89,-1.25,2014.90,-2.0,2014.91,-1.5,2014.92,-2.25,2014.93,-1.7,2014.94,-1.35,2014.95,-1.95,2014.96,-1.55,2014.97,-1.2,2014.98,-1.8,2014.99,-1.45,
2015.00,-1.3,2015.01,-1.6,2015.02,-1.1,2015.03,-1.45,2015.04,-1.75,2015.05,-1.25,2015.06,-1.5,2015.07,-1.0,2015.08,-1.35,2015.09,-1.65,2015.10,-1.2,2015.11,-1.55,2015.12,-1.4,2015.13,-1.8,2015.14,-1.15,2015.15,-1.5,2015.16,-1.3,2015.17,-1.7,2015.18,-1.45,2015.19,-1.9,2015.20,-1.25,2015.21,-1.6,2015.22,-2.0,2015.23,-1.4,2015.24,-1.75,2015.25,-2.1,
2015.26,-2.3,2015.27,-1.5,2015.28,-2.6,2015.29,-2.1,2015.30,-1.2,2015.31,-2.45,2015.32,-2.75,2015.33,-1.8,2015.34,-2.2,2015.35,-2.55,2015.36,-1.4,2015.37,-2.35,2015.38,-2.9,2015.39,-2.05,2015.40,-1.65,2015.41,-2.5,2015.42,-2.25,2015.43,-1.3,2015.44,-2.65,2015.45,-2.15,2015.46,-1.9,2015.47,-2.4,2015.48,-3.2,2015.49,-2.3,2015.50,-1.55,2015.51,-2.6,2015.52,-2.1,2015.53,-2.45,2015.54,-1.75,2015.55,-2.8,2015.56,-2.2,2015.57,-1.35,2015.58,-2.5,2015.59,-2.0,2015.60,-2.35,2015.61,-1.6,2015.62,-2.7,2015.63,-2.15,2015.64,-1.85,2015.65,-2.4,2015.66,-2.05,2015.67,-2.55,2015.68,-1.45,2015.69,-2.25,2015.70,-2.6,2015.71,-1.95,2015.72,-2.3,2015.73,-2.75,2015.74,-2.1,
2015.82,-1.4,2015.84,-1.2,2015.85,-1.55,2015.86,-1.0,2015.87,-1.35,2015.88,-1.65,2015.89,-1.15,2015.90,-1.45,2015.91,-0.95,2015.92,-1.3,2015.93,-1.6,2015.94,-1.1,2015.95,-1.4,2015.96,-0.85,2015.97,-1.25,2015.98,-1.5,2015.99,-0.75,2016.00,-1.05,2016.01,-0.9,2016.02,-1.35,2016.03,-0.8,2016.04,-1.15,2016.05,-1.45,2016.06,-0.95,2016.07,-1.25,2016.08,-1.55,2016.09,-1.1,2016.10,-1.4,2016.11,-1.7,2016.12,-1.3,2016.13,-1.6,2016.14,-1.85,2016.15,-1.45,2016.16,-1.75,2016.17,-2.0,
2016.18,-2.1,2016.19,-1.6,2016.20,-2.35,2016.21,-1.9,2016.22,-2.5,2016.23,-2.2,2016.24,-1.45,2016.25,-2.65,2016.26,-2.05,2016.27,-2.4,2016.28,-1.75,2016.29,-2.8,2016.30,-2.25,2016.31,-2.55,2016.32,-1.95,2016.33,-2.7,2016.34,-2.35,2016.35,-3.0,2016.36,-2.15,2016.37,-2.5,2016.38,-1.65,2016.39,-2.85,2016.40,-2.3,2016.41,-2.6,2016.42,-2.0,2016.43,-2.75,2016.44,-2.4,2016.45,-1.8,2016.46,-2.55,2016.47,-2.2,2016.48,-2.9,2016.49,-2.45,2016.50,-1.55,2016.51,-2.65,2016.52,-2.3,2016.53,-2.0,2016.54,-2.75,2016.55,-2.4,2016.56,-1.85,2016.57,-2.6,2016.58,-2.15,2016.59,-2.5,2016.60,-1.7,2016.61,-2.8,2016.62,-2.35,2016.63,-2.05,2016.64,-2.55,2016.65,-1.5,2016.66,-2.7,2016.67,-2.25,2016.68,-1.9,2016.69,-2.45,2016.70,-2.1,2016.71,-1.4,2016.72,-2.6,2016.73,-2.3,2016.74,-1.75,2016.75,-2.4,
2016.76,-1.6,2016.77,-2.0,2016.78,-1.3,2016.79,-1.75,2016.80,-2.2,2016.81,-1.45,2016.82,-1.85,2016.83,-1.2,2016.84,-1.6,2016.85,-2.05,2016.86,-1.35,2016.87,-1.7,2016.88,-1.1,2016.89,-1.5,2016.90,-1.85,2016.91,-1.25,2016.92,-1.6,2016.93,-0.95,2016.94,-1.4,2016.95,-1.75,2016.96,-0.6,2016.97,-1.3,2016.98,-1.55,2016.99,-1.05,2017.00,-1.45,2017.01,-1.8,2017.02,-1.25,2017.03,-1.6,2017.04,-1.35,2017.05,-1.9,2017.06,-1.5,2017.07,-1.2,2017.08,-1.7,2017.09,-1.4,2017.10,-2.0,2017.11,-1.55,2017.12,-1.3,2017.13,-1.85,2017.14,-1.6,2017.15,-2.15,2017.16,-1.45,2017.17,-1.75,2017.18,-2.3,2017.19,-1.65,2017.20,-1.95,2017.21,-1.5,2017.22,-2.2,2017.23,-1.8,2017.24,-1.6,2017.25,-2.05,2017.26,-1.4,2017.28,-1.9,2017.30,-2.3,2017.32,-1.7,
2017.33,-2.4,2017.34,-1.8,2017.35,-2.6,2017.36,-2.2,2017.37,-1.5,2017.38,-2.75,2017.39,-2.35,2017.40,-1.95,2017.41,-2.55,2017.42,-2.9,2017.43,-2.25,2017.44,-1.65,2017.45,-2.65,2017.46,-2.4,2017.47,-3.05,2017.48,-2.1,2017.49,-2.5,2017.50,-1.75,2017.51,-2.8,2017.52,-2.3,2017.53,-2.6,2017.54,-2.0,2017.55,-2.45,2017.56,-2.95,2017.57,-2.2,2017.58,-1.6,2017.59,-2.7,2017.60,-2.35,2017.61,-2.05,2017.62,-2.55,2017.63,-1.85,2017.64,-2.4,2017.65,-2.15,2017.66,-2.65,2017.67,-1.9,2017.68,-2.3,2017.69,-2.0,2017.70,-2.5,2017.71,-1.7,2017.72,-2.2,2017.73,-1.95,2017.74,-2.35,
2017.75,-2.0,2017.76,-1.7,2017.77,-2.2,2017.78,-1.5,2017.79,-1.85,2017.80,-1.35,2017.81,-1.95,2017.82,-1.6,2017.83,-1.25,2017.84,-1.75,2017.85,-1.45,2017.86,-1.1,2017.87,-1.6,2017.88,-1.3,2017.89,-1.85,2017.90,-1.2,2017.91,-1.5,2017.92,-1.0,2017.93,-1.4,2017.94,-1.15,2017.95,-1.65,2017.96,-1.25,2017.97,-0.95,2017.98,-1.35,2017.99,-1.1
];
const dClusters2 = [
2014.018,-1.18,2014.032,-1.72,2014.046,-0.98,2014.061,-1.52,2014.074,-1.28,2014.088,-1.88,2014.102,-1.08,2014.121,-1.62,2014.134,-1.32,2014.156,-1.78,2014.168,-1.42,2014.185,-2.05,
2014.252,-1.62,2014.274,-2.42,2014.296,-1.85,2014.318,-2.18,2014.345,-1.52,2014.367,-2.38,2014.388,-1.95,2014.414,-2.62,2014.437,-1.72,2014.458,-2.28,2014.482,-1.42,2014.506,-2.52,2014.531,-1.88,2014.553,-2.38,2014.577,-1.62,2014.602,-2.22,2014.628,-1.48,2014.652,-2.58,2014.674,-1.82,2014.698,-2.32,2014.722,-1.68,2014.746,-2.48,2014.768,-1.38,2014.792,-2.15,2014.816,-1.58,2014.838,-2.38,2014.862,-1.72,2014.884,-2.22,2014.906,-1.32,2014.928,-1.88,2014.952,-1.52,2014.976,-1.28,2014.994,-1.65,
2015.008,-1.42,2015.022,-1.18,2015.036,-1.58,2015.052,-1.32,2015.066,-1.72,2015.082,-1.12,2015.098,-1.48,2015.114,-1.28,2015.128,-1.62,2015.144,-1.38,2015.162,-1.82,2015.178,-1.52,2015.196,-1.22,2015.214,-1.68,2015.232,-1.92,2015.248,-1.45,
2015.268,-2.45,2015.292,-1.88,2015.314,-2.62,2015.338,-2.15,2015.362,-2.72,2015.386,-2.28,2015.408,-1.82,2015.432,-2.52,2015.458,-2.08,2015.482,-2.68,2015.506,-2.32,2015.528,-1.92,2015.552,-2.48,2015.578,-2.18,2015.602,-2.78,2015.626,-2.28,2015.652,-1.72,2015.676,-2.42,2015.702,-2.18,2015.726,-2.52,2015.748,-1.98,
2015.828,-1.28,2015.842,-1.52,2015.856,-1.12,2015.871,-1.42,2015.884,-0.92,2015.898,-1.32,2015.913,-1.58,2015.926,-1.02,2015.939,-1.28,2015.952,-1.48,2015.966,-0.95,2015.981,-1.18,2015.995,-0.88,2016.007,-1.22,2016.018,-0.98,2016.032,-1.42,2016.046,-0.85,2016.061,-1.18,2016.076,-1.38,2016.092,-1.02,2016.106,-1.52,2016.122,-1.22,2016.138,-1.68,2016.155,-1.35,2016.168,-1.62,
2016.186,-2.25,2016.208,-1.78,2016.228,-2.42,2016.248,-2.12,2016.268,-2.62,2016.288,-2.02,2016.308,-2.48,2016.328,-2.18,2016.348,-2.78,2016.368,-2.32,2016.388,-2.08,2016.408,-2.58,2016.428,-2.22,2016.448,-2.68,2016.468,-2.38,2016.488,-1.92,2016.508,-2.48,2016.528,-2.18,2016.548,-2.62,2016.568,-2.28,2016.588,-1.98,2016.608,-2.42,2016.628,-2.12,2016.648,-2.48,2016.668,-1.88,2016.688,-2.28,2016.708,-1.62,2016.728,-2.08,2016.748,-1.58,
2016.768,-1.82,2016.788,-1.48,2016.806,-1.95,2016.824,-1.38,2016.842,-1.72,2016.858,-1.25,2016.874,-1.62,2016.892,-1.35,2016.908,-1.72,2016.924,-1.18,2016.942,-1.52,2016.958,-1.28,2016.972,-0.85,2016.988,-1.42,2017.004,-1.22,2017.022,-1.68,2017.038,-1.38,2017.056,-1.12,2017.072,-1.58,2017.088,-1.82,2017.106,-1.32,2017.124,-1.68,2017.142,-1.48,2017.162,-1.92,2017.178,-1.58,2017.196,-2.12,2017.214,-1.72,2017.232,-1.42,2017.252,-1.88,2017.272,-2.18,2017.292,-1.62,2017.312,-2.02,
2017.342,-2.18,2017.362,-2.72,2017.382,-2.02,2017.402,-2.48,2017.422,-2.18,2017.442,-2.82,2017.462,-2.28,2017.482,-2.62,2017.502,-2.12,2017.522,-2.52,2017.542,-2.78,2017.562,-2.32,2017.582,-2.58,2017.602,-1.92,2017.622,-2.28,2017.642,-2.62,2017.662,-2.02,2017.682,-2.48,2017.702,-1.82,2017.722,-2.38,
2017.762,-1.88,2017.778,-1.62,2017.795,-2.02,2017.812,-1.48,2017.828,-1.78,2017.846,-1.32,2017.862,-1.52,2017.878,-1.18,2017.895,-1.42,2017.912,-1.28,2017.928,-1.62,2017.946,-1.05,2017.962,-1.38,2017.978,-1.22,2017.992,-0.88
];
const dScatter = [
2014.30,-0.8,2014.42,-0.7,2014.50,-0.95,2014.60,-0.85,2014.75,-0.6,2014.85,-0.9,2014.35,-0.55,
2015.28,-0.55,2015.35,-0.85,2015.45,-0.4,2015.50,-1.0,2015.55,-0.15,2015.58,-0.7,2015.63,-0.3,2015.65,-0.95,2015.70,-0.6,2015.72,-1.1,2015.15,-0.65,2015.05,-0.8,
2016.25,-1.1,2016.40,-0.95,2016.55,-1.2,2016.65,-0.85,2016.70,-1.0,2016.75,-0.7,2016.62,-1.3,
2016.98,-0.25,2017.00,-0.45,2017.10,-0.8,2017.20,-0.7,2017.35,-0.9,2017.45,-1.05,2017.55,-0.85,2017.65,-1.0,2017.85,-0.75,2017.05,-0.35,
2014.058,-0.62,2014.278,-0.92,2014.468,-0.42,2014.548,-0.78,2014.718,-1.02,2014.936,-0.72,2015.092,-0.58,2015.318,-0.98,2015.398,-0.68,2015.618,-0.52,2015.846,-0.62,2016.138,-0.88,2016.322,-1.12,2016.588,-0.95,2016.848,-0.78,2016.902,-0.52,2017.138,-0.62,2017.272,-0.98,2017.498,-0.72,2017.702,-0.92,2017.918,-0.58,
2014.428,-2.95,2014.612,-3.05,2015.442,-3.12,2015.688,-2.95,2016.412,-3.02,2016.512,-2.92,2017.452,-3.15,2017.612,-3.02
];

// ---------- helpers (conversion only) ----------
function toDate(t) {
  const y = Math.floor(t);
  const a = Date.UTC(y, 0, 1), b = Date.UTC(y + 1, 0, 1);
  return new Date(a + (t - y) * (b - a));
}
function pairs(arr, isLog) {
  const out = [];
  for (let i = 0; i < arr.length; i += 2) out.push({t: toDate(arr[i]), v: isLog ? Math.pow(10, arr[i + 1]) : arr[i + 1]});
  return out;
}
const yearDates = yearTicks.map(y => new Date(Date.UTC(y, 0, 1)));
const xDomain = [new Date(Date.UTC(2014, 0, 1)), new Date(Date.UTC(2018, 0, 1))];

const FONT = "'Liberation Sans', Arial, sans-serif";
const DOT = "#ec8010";
const GRID = "#e1e1e1";
const FRAME = "#a9a9a9";
const PLOT_W = 643;

function panel(opt) {
  const ml = opt.ml;
  const marks = [];
  if (opt.gridX) marks.push(Plot.ruleX(yearDates.slice(1), {stroke: GRID, strokeWidth: 1.3}));
  if (opt.gridY) marks.push(Plot.ruleY(opt.gridY, {stroke: GRID, strokeWidth: 1.3}));
  marks.push(Plot.dot(opt.data, {x: "t", y: "v", r: 1.3, fill: DOT, fillOpacity: 0.72, stroke: "none", clip: true}));
  if (opt.noTop) {
    marks.push(Plot.ruleX([xDomain[0]], {stroke: FRAME, strokeWidth: 1.6}));
    marks.push(Plot.ruleY([opt.yDomain[0]], {stroke: FRAME, strokeWidth: 1.6}));
  } else {
    marks.push(Plot.frame({stroke: FRAME, strokeWidth: 1.6}));
  }
  marks.push(Plot.axisY({
    ticks: opt.yTicks, tickFormat: opt.yFmt, tickSize: 0, tickPadding: opt.padY,
    label: opt.yLabel, labelAnchor: "center", labelArrow: "none", labelOffset: opt.labelOffset,
    fontSize: 27
  }));
  if (opt.showX) marks.push(Plot.axisX({
    ticks: yearDates, tickFormat: d => String(d.getUTCFullYear()), tickSize: 0, tickPadding: opt.padX,
    label: null, fontSize: 27
  }));
  return Plot.plot({
    width: ml + PLOT_W + 10, height: opt.mt + opt.h + opt.mb,
    marginLeft: ml, marginRight: 10, marginTop: opt.mt, marginBottom: opt.mb,
    x: {type: "utc", domain: xDomain, axis: opt.showX ? undefined : null},
    y: {type: opt.yType, domain: opt.yDomain},
    style: {fontFamily: FONT, fontSize: "27px", color: "#222", background: "transparent", maxWidth: "none", overflow: "visible"},
    marks
  });
}

document.getElementById("pa").append(panel({
  data: pairs(aBand).concat(pairs(aBand2), pairs(aScatter), pairs(aScatter2)), yType: "linear", yDomain: [0, 360], yTicks: azTicks, yFmt: d => String(d),
  yLabel: "Backazimuth, [°]", gridX: true, gridY: [200], showX: true, noTop: true,
  ml: 188, mt: 20, h: 175, mb: 45, padY: 6, padX: 8, labelOffset: 86
}));
document.getElementById("pb").append(panel({
  data: pairs(bBand).concat(pairs(bBand2), pairs(bMid), pairs(bMid2), pairs(bLow), pairs(bLow2)), yType: "linear", yDomain: [0, 360], yTicks: azTicks, yFmt: d => String(d),
  yLabel: "Backazimuth, [°]", gridX: true, gridY: [200], showX: true,
  ml: 188, mt: 20, h: 175, mb: 45, padY: 6, padX: 8, labelOffset: 86
}));
document.getElementById("pc").append(panel({
  data: pairs(cClusters, true).concat(pairs(cClusters2, true), pairs(cScatter, true), pairs(cScatter2, true)), yType: "log", yDomain: [10, 1e5], yTicks: ampCTicks,
  yFmt: d => ampCTickLabels[ampCTicks.indexOf(d)],
  yLabel: "Amplitude, [nm/s]", gridX: false, gridY: null, showX: false,
  ml: 182, mt: 20, h: 243, mb: 10, padY: 5, padX: 8, labelOffset: 83
}));
document.getElementById("pd").append(panel({
  data: pairs(dClusters, true).concat(pairs(dClusters2, true), pairs(dScatter, true)), yType: "log", yDomain: [Math.pow(10, -3.5), 1], yTicks: ampDTicks,
  yFmt: d => ampDTickLabels[ampDTicks.indexOf(d)],
  yLabel: "Amplitude, [Pa]", gridX: true, gridY: [0.01], showX: true,
  ml: 188, mt: 20, h: 172, mb: 45, padY: 3, padX: 10, labelOffset: 85
}));
</script>
</body>
</html>
